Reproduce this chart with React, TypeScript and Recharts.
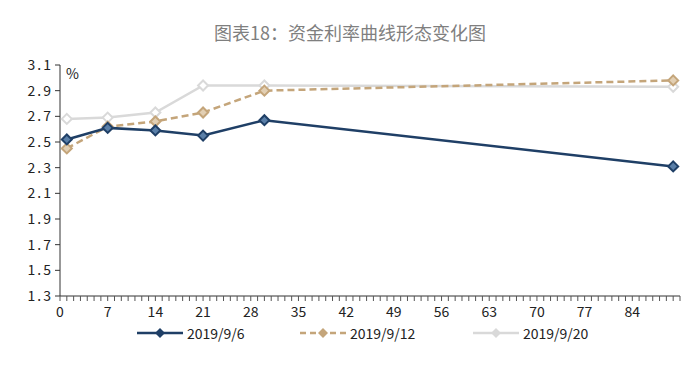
import React from 'react';
import { LineChart, Line, XAxis, YAxis } from 'recharts';

const tenors = [1, 7, 14, 21, 30, 90];
const rates0906 = [2.52, 2.61, 2.59, 2.55, 2.67, 2.31];
const rates0912 = [2.45, 2.62, 2.66, 2.73, 2.9, 2.98];
const rates0920 = [2.68, 2.69, 2.73, 2.94, 2.94, 2.93];
const yTicks = [1.3, 1.5, 1.7, 1.9, 2.1, 2.3, 2.5, 2.7, 2.9, 3.1];
const xMinor = Array.from({ length: 92 }, (_, i) => i);

const data = tenors.map((t, i) => ({
  day: t,
  a: rates0906[i],
  b: rates0912[i],
  c: rates0920[i],
}));

const FONT = '"Noto Sans CJK SC", "Noto Sans", sans-serif';

const makeDiamond = (stroke: string, fill: string) => (props: any) => {
  const { cx, cy, index } = props;
  if (cx == null || cy == null) return <g key={index} />;
  const r = 5;
  return (
    <path
      key={index}
      d={`M${cx},${cy - r} L${cx + r},${cy} L${cx},${cy + r} L${cx - r},${cy} Z`}
      fill={fill}
      stroke={stroke}
      strokeWidth={2}
    />
  );
};

const XTick = (props: any) => {
  const { x, y, payload } = props;
  const show = payload.value % 7 === 0 && payload.value <= 84;
  return (
    <g>
      <line x1={x} x2={x} y1={y - 8} y2={y - 3} stroke="#555" strokeWidth={1} />
      {show && (
        <text x={x} y={y + 13} textAnchor="middle" fontSize={14} fill="#222" fontFamily={FONT}>
          {payload.value}
        </text>
      )}
    </g>
  );
};

const legendItems = [
  { label: '2019/9/6', color: '#1F3F66', dash: undefined as string | undefined, x: 137 },
  { label: '2019/9/12', color: '#C4A57A', dash: '6 4', x: 300 },
  { label: '2019/9/20', color: '#D9D9D9', dash: undefined, x: 473 },
];

export default function App() {
  return (
    <div style={{ position: 'absolute', left: 0, top: 0, width: 700, height: 381, background: '#fff' }}>
      <div
        style={{
          position: 'absolute',
          top: 19,
          left: 0,
          width: 700,
          textAlign: 'center',
          fontFamily: FONT,
          fontSize: 18,
          color: '#7f7f7f',
        }}
      >
        图表18：资金利率曲线形态变化图
      </div>
      <LineChart width={700} height={381} data={data} margin={{ top: 65, right: 20, left: 18, bottom: 55 }}>
        <XAxis
          dataKey="day"
          type="number"
          domain={[0, 91]}
          ticks={xMinor}
          interval={0}
          tick={<XTick />}
          tickLine={false}
          axisLine={{ stroke: '#333', strokeWidth: 1 }}
          height={30}
        />
        <YAxis
          type="number"
          domain={[1.3, 3.1]}
          ticks={yTicks}
          interval={0}
          width={42}
          tickSize={5}
          tickLine={{ stroke: '#333' }}
          axisLine={{ stroke: '#333', strokeWidth: 1 }}
          tick={{ fontSize: 14, fill: '#222', fontFamily: FONT, letterSpacing: 2 }}
          tickFormatter={(v: number) => v.toFixed(1)}
        />
        <Line
          dataKey="c"
          stroke="#D9D9D9"
          strokeWidth={2.5}
          dot={makeDiamond('#D9D9D9', '#ffffff')}
          isAnimationActive={false}
        />
        <Line
          dataKey="b"
          stroke="#C4A57A"
          strokeWidth={2.5}
          strokeDasharray="7 4"
          dot={makeDiamond('#C4A57A', '#E2CFB3')}
          isAnimationActive={false}
        />
        <Line
          dataKey="a"
          stroke="#1F3F66"
          strokeWidth={2.5}
          dot={makeDiamond('#1F3F66', '#5A7FA8')}
          isAnimationActive={false}
        />
      </LineChart>
      <div style={{ position: 'absolute', left: 66, top: 63, fontFamily: FONT, fontSize: 14, color: '#222' }}>%</div>
      <div style={{ position: 'absolute', left: 0, top: 325, width: 700, height: 16 }}>
        {legendItems.map((it) => (
          <div key={it.label} style={{ position: 'absolute', left: it.x, top: 0, height: 16, display: 'flex', alignItems: 'center' }}>
            <svg width={46} height={14}>
              <line x1={0} x2={46} y1={7} y2={7} stroke={it.color} strokeWidth={2.5} strokeDasharray={it.dash} />
              <path d="M23,2 L28,7 L23,12 L18,7 Z" fill={it.color} />
            </svg>
            <span style={{ marginLeft: 4, fontFamily: FONT, fontSize: 14, lineHeight: '16px', color: '#222' }}>{it.label}</span>
          </div>
        ))}
      </div>
    </div>
  );
}
